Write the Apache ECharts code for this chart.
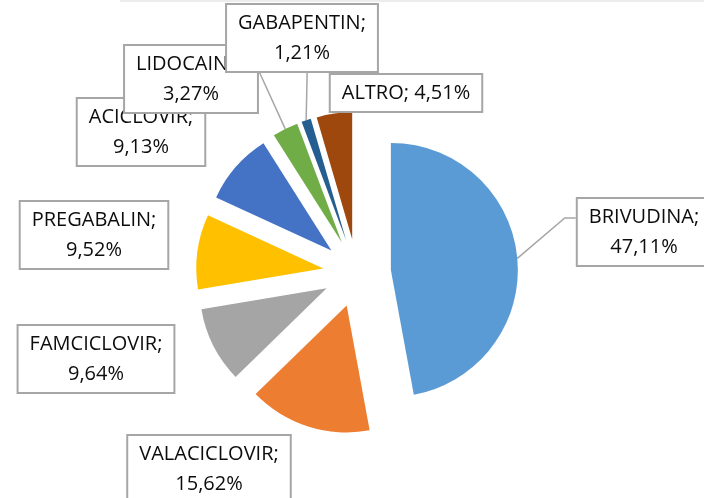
<!DOCTYPE html>
<html>
<head>
<meta charset="utf-8">
<script src="https://cdn.jsdelivr.net/npm/echarts@6/dist/echarts.min.js"></script>
<style>
html,body{margin:0;padding:0;background:#fff;}
#chart{width:704px;height:498px;}
</style>
</head>
<body>
<div id="chart"></div>
<script>
// ---- data ----
var categories = ['BRIVUDINA', 'VALACICLOVIR', 'FAMCICLOVIR', 'PREGABALIN', 'ACICLOVIR', 'LIDOCAINA', 'GABAPENTIN', 'ALTRO'];
var percents = [47.11, 15.62, 9.64, 9.52, 9.13, 3.27, 1.21, 4.51];
var singleLineLabels = ['ALTRO'];
var leaderLineLabels = ['BRIVUDINA', 'LIDOCAINA', 'GABAPENTIN'];

// ---- style / layout ----
var colors = ['#5B9BD5', '#ED7D31', '#A5A5A5', '#FFC000', '#4472C4', '#70AD47', '#255E91', '#9E480E'];
var labelCenters = {
  'BRIVUDINA': [644, 232],
  'VALACICLOVIR': [209, 469],
  'FAMCICLOVIR': [96, 359],
  'PREGABALIN': [94, 235],
  'ACICLOVIR': [141, 132],
  'LIDOCAINA': [191, 79],
  'GABAPENTIN': [302, 38],
  'ALTRO': [406, 93]
};
var pieCenter = [357, 273];
var pieRadius = 127;
var explode = 34;

function fmt(v) { return v.toFixed(2).replace('.', ',') + '%'; }

var chart = echarts.init(document.getElementById('chart'), null, { renderer: 'canvas' });

var sliceData = categories.map(function (c, i) {
  return { name: c, value: percents[i], selected: true, itemStyle: { color: colors[i] } };
});
var labelData = categories.map(function (c, i) {
  return {
    name: c,
    value: percents[i],
    labelLine: { show: leaderLineLabels.indexOf(c) >= 0 }
  };
});

chart.setOption({
  animation: false,
  graphic: [{
    type: 'rect', shape: { x: 120, y: 0, width: 584, height: 2 },
    style: { fill: '#ececec' }, silent: true
  }],
  series: [{
    type: 'pie',
    center: pieCenter,
    radius: [0, pieRadius],
    startAngle: 90,
    clockwise: true,
    selectedMode: 'multiple',
    selectedOffset: explode,
    emphasis: { disabled: true },
    itemStyle: { borderWidth: 0 },
    label: { show: false },
    labelLine: { show: false },
    data: sliceData
  }, {
    type: 'pie',
    center: pieCenter,
    radius: [0, pieRadius + explode],
    startAngle: 90,
    clockwise: true,
    silent: true,
    selectedMode: false,
    avoidLabelOverlap: false,
    emphasis: { disabled: true },
    itemStyle: { color: 'rgba(0,0,0,0)', borderWidth: 0 },
    label: {
      show: true,
      position: 'outside',
      formatter: function (p) {
        var sep = singleLineLabels.indexOf(p.name) >= 0 ? '; ' : ';\n';
        return p.name + sep + fmt(p.value);
      },
      fontFamily: 'Open Sans',
      fontSize: 20,
      lineHeight: 30,
      color: '#0d0d0d',
      backgroundColor: '#ffffff',
      borderColor: '#a6a6a6',
      borderWidth: 2,
      padding: [3, 11, 3, 11],
      align: 'center'
    },
    labelLine: {
      show: true,
      lineStyle: { color: '#a6a6a6', width: 1.5 }
    },
    labelLayout: function (params) {
      var name = categories[params.dataIndex];
      var c = labelCenters[name];
      var w = params.labelRect.width, h = params.labelRect.height;
      var left = c[0] - w / 2, right = c[0] + w / 2, top = c[1] - h / 2, bottom = c[1] + h / 2;
      var res = { x: c[0], y: c[1], align: 'center', verticalAlign: 'middle' };
      var pts = params.labelLinePoints;
      if (pts && leaderLineLabels.indexOf(name) >= 0) {
        var a = pts[0];
        var end, mid;
        if (name === 'BRIVUDINA') {
          end = [left, top + 21];
          mid = [left - 11, top + 21];
        } else if (name === 'LIDOCAINA') {
          end = [right - 1, top + 25];
          mid = end;
        } else {
          end = [a[0] + 1, bottom];
          mid = end;
        }
        res.labelLinePoints = [[a[0], a[1]], mid, end];
      }
      return res;
    },
    data: labelData
  }]
});
</script>
</body>
</html>
